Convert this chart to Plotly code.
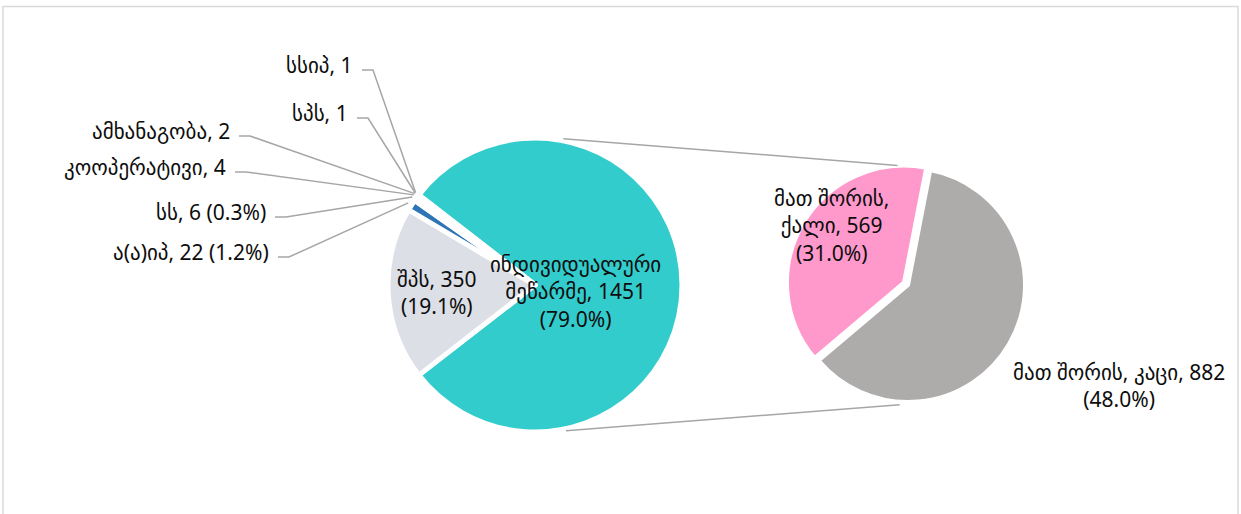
import numpy as np
import plotly.graph_objects as go

W, H = 1241, 514

# main pie
main_labels = ["ინდივიდუალური მეწარმე", "შპს", "ა(ა)იპ", "სს", "კოოპერატივი",
               "ამხანაგობა", "სპს", "სსიპ"]
main_values = [1451, 350, 22, 6, 4, 2, 1, 1]
main_colors = ["#33CCCC", "#DCDFE6", "#2E75B6", "#A5A5A5", "#FFC000",
               "#5B9BD5", "#70AD47", "#264478"]

# breakdown of the first slice
sub_labels = ["მათ შორის, ქალი", "მათ შორის, კაცი"]
sub_values = [569, 882]
sub_colors = ["#FF99CC", "#AEABAB"]

total = sum(main_values)
pct = lambda v: f"({100 * v / total:.1f}%)"

# geometry (pixels)
c1, r1 = (535, 285), 147
c2, r2 = (908, 285), 117
pull2 = 0.04


def px(x):
    return x / W


def py(y):
    return 1 - y / H


def on_circle(c, r, ang):
    # ang: degrees clockwise from 12 o'clock
    a = np.radians(ang)
    return c[0] + r * np.sin(a), c[1] - r * np.cos(a)


frac0 = main_values[0] / total
rot1 = 90 - frac0 * 180  # first slice centred on 3 o'clock

fig = go.Figure()
fig.add_trace(go.Pie(
    labels=main_labels, values=main_values, sort=False, direction="clockwise",
    rotation=rot1, marker=dict(colors=main_colors, line=dict(color="white", width=5)),
    textinfo="none", hoverinfo="label+value", showlegend=False,
    domain=dict(x=[px(c1[0] - r1), px(c1[0] + r1)], y=[py(c1[1] + r1), py(c1[1] - r1)]),
))

R2 = r2 * (1 + pull2)
fig.add_trace(go.Pie(
    labels=sub_labels, values=sub_values, sort=False, direction="clockwise",
    rotation=229.8, pull=[pull2, 0],
    marker=dict(colors=sub_colors, line=dict(color="white", width=4)),
    textinfo="none", hoverinfo="label+value", showlegend=False,
    domain=dict(x=[px(c2[0] - R2), px(c2[0] + R2)], y=[py(c2[1] + R2), py(c2[1] - R2)]),
))

font = dict(family="Noto Sans, DejaVu Sans, sans-serif", size=21, color="#0d0d0d")
annotations = []
shapes = []


def ann(x, y, text, anchor="center"):
    annotations.append(dict(x=px(x), y=py(y), xref="paper", yref="paper", text=text,
                            showarrow=False, xanchor=anchor, yanchor="middle", font=font))


# inside-ish labels
ann(575, 291, f"ინდივიდუალური<br>მეწარმე, {main_values[0]}<br>{pct(main_values[0])}")
ann(437, 292, f"შპს, {main_values[1]}<br>{pct(main_values[1])}")
ann(831, 225, f"მათ შორის,<br>ქალი, {sub_values[0]}<br>{pct(sub_values[0])}")
ann(1119, 385, f"მათ შორის, კაცი, {sub_values[1]}<br>{pct(sub_values[1])}")

# small slices: labels on the left with leader lines
small_pos = {  # label right end x, y
    "ა(ა)იპ": (271, 252, True),
    "სს": (268, 212, True),
    "კოოპერატივი": (228, 167, False),
    "ამხანაგობა": (232, 131, False),
    "სპს": (350, 113, False),
    "სსიპ": (355, 65, False),
}
cum = 0
for lab, val in zip(main_labels, main_values):
    start = rot1 + cum / total * 360
    cum += val
    if lab not in small_pos:
        continue
    mid = (start + rot1 + cum / total * 360) / 2
    x, y, show_pct = small_pos[lab]
    ann(x, y, f"{lab}, {val}" + (f" {pct(val)}" if show_pct else ""), anchor="right")
    ex, ey = on_circle(c1, r1 + 4, mid)
    path = f"M {px(x + 7)} {py(y + 5)} L {px(x + 18)} {py(y + 5)} L {px(ex)} {py(ey)}"
    shapes.append(dict(type="path", path=path, xref="paper", yref="paper",
                       line=dict(color="#A6A6A6", width=1.5)))

# connector lines between the pies
for a1, a2 in [(11, -5), (168, 184)]:
    x0, y0 = on_circle(c1, r1 + 2, a1)
    x1, y1 = on_circle(c2, r2 + 3, a2)
    shapes.append(dict(type="line", xref="paper", yref="paper", x0=px(x0), y0=py(y0),
                       x1=px(x1), y1=py(y1), line=dict(color="#A6A6A6", width=1.5)))

# chart border
shapes.append(dict(type="rect", xref="paper", yref="paper", x0=px(3), y0=py(530),
                   x1=px(1238), y1=py(6.5), line=dict(color="#D9D9D9", width=1.5)))

fig.update_layout(width=W, height=H, margin=dict(l=0, r=0, t=0, b=0),
                  paper_bgcolor="white", plot_bgcolor="white",
                  annotations=annotations, shapes=shapes)
fig.write_html("out.html", config={"displayModeBar": False},
               post_script="document.body.style.margin='0';")
